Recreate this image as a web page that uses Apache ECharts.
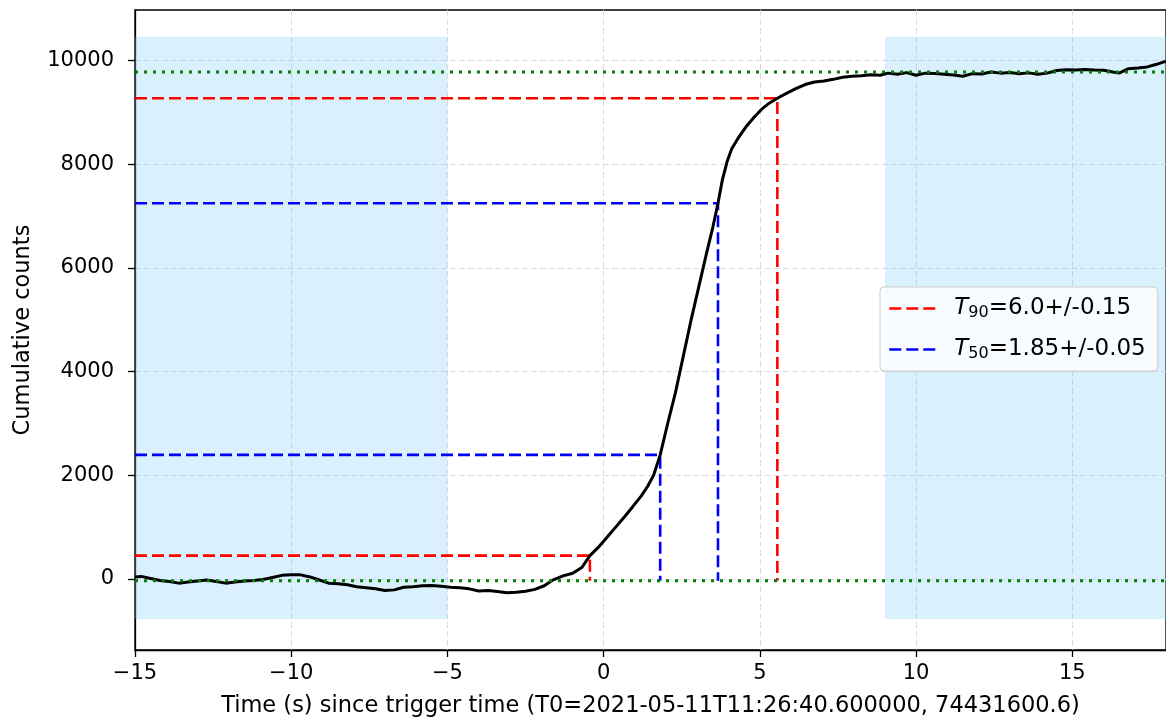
<!DOCTYPE html>
<html>
<head>
<meta charset="utf-8">
<script src="https://cdn.jsdelivr.net/npm/echarts@6/dist/echarts.min.js"></script>
<style>
  html, body { margin: 0; padding: 0; background: #fff; }
  #chart { width: 1166px; height: 724px; }
</style>
</head>
<body>
<div id="chart"></div>
<script>
// Cumulative light curve (time in s since T0, cumulative counts)
const times = [
  -15.0, -14.8, -14.5, -14.2, -13.9, -13.6, -13.3, -13.0, -12.7, -12.4,
  -12.1, -11.8, -11.5, -11.2, -10.9, -10.6, -10.3, -10.0, -9.7, -9.4,
  -9.1, -8.8, -8.5, -8.2, -7.9, -7.6, -7.3, -7.0, -6.7, -6.4,
  -6.1, -5.8, -5.5, -5.2, -4.9, -4.6, -4.3, -4.0, -3.7, -3.4,
  -3.1, -2.8, -2.5, -2.2, -1.9, -1.63, -1.3, -0.99, -0.7, -0.44,
  -0.14, 0.13, 0.4, 0.67, 0.93, 1.2, 1.41, 1.6, 1.81, 2.05,
  2.3, 2.55, 2.8, 3.05, 3.3, 3.5, 3.66, 3.8, 3.95, 4.1,
  4.3, 4.55, 4.8, 5.05, 5.3, 5.56, 5.85, 6.15, 6.45, 6.75,
  7.05, 7.35, 7.65, 7.95, 8.25, 8.55, 8.85, 9.1, 9.4, 9.7,
  10.0, 10.3, 10.6, 10.9, 11.2, 11.5, 11.8, 12.1, 12.4, 12.7,
  13.0, 13.3, 13.6, 13.9, 14.2, 14.5, 14.8, 15.1, 15.4, 15.7,
  16.0, 16.3, 16.5, 16.8, 17.1, 17.4, 17.7, 18.0
];
const counts = [
  40, 50, 10, -30, -50, -80, -60, -40, -20, -50,
  -80, -60, -40, -30, -10, 30, 70, 80, 80, 40,
  -20, -80, -90, -110, -150, -170, -190, -220, -210, -160,
  -150, -130, -125, -140, -160, -170, -190, -230, -220, -240,
  -265, -255, -235, -200, -130, -20, 60, 110, 220, 450,
  630, 820, 1010, 1200, 1395, 1600, 1790, 2000, 2395, 3000,
  3600, 4300, 5000, 5650, 6300, 6800, 7250, 7700, 8050, 8300,
  8500, 8720, 8900, 9060, 9180, 9275, 9370, 9460, 9540, 9590,
  9610, 9640, 9680, 9700, 9710, 9730, 9720, 9760, 9740, 9770,
  9720, 9760, 9755, 9740, 9725, 9700, 9750, 9745, 9780, 9760,
  9770, 9750, 9765, 9740, 9760, 9810, 9825, 9820, 9830, 9820,
  9815, 9780, 9760, 9845, 9860, 9880, 9930, 9990
];

// Axis ranges and ticks
const xRange = [-15, 18];
const yRange = [-1370, 10978];
const xTicks = [-15, -10, -5, 0, 5, 10, 15];
const yTicks = [0, 2000, 4000, 6000, 8000, 10000];

// Background fit intervals (time) and their vertical extent (counts)
const bkgIntervals = [[-15, -5], [9, 18]];
const bkgSpanCounts = [-772, 10463];
// Background levels: pre-burst and post-burst plateau
const bkgLevels = [-33, 9782];

// Duration markers: start/end times and the count levels they cross
const t90Times = [-0.44, 5.56];
const t90Counts = [450, 9275];
const t50Times = [1.81, 3.66];
const t50Counts = [2395, 7250];

// Legend entries
const legendNames = ['T90', 'T50'];
const legendSubs = ['90', '50'];
const legendValues = ['=6.0+/-0.15', '=1.85+/-0.05'];

const FONT = 'DejaVu Sans';
const TICK_FS = 21;
const NAME_FS = 22.5;
const LEG_FS = 23;
const DASH = [12, 5];
const curveData = times.map((t, i) => [t, counts[i]]);

function guideSeries(name, color, tArr, cArr) {
  return tArr.map((t, i) => ({
    name: name,
    type: 'line',
    data: [[xRange[0], cArr[i]], [t, cArr[i]], [t, bkgLevels[0]]],
    showSymbol: false,
    symbol: 'none',
    silent: true,
    z: 3,
    lineStyle: { color: color, width: 2.6, type: DASH },
    itemStyle: { color: color }
  }));
}

const series = [
  {
    name: 'spans',
    type: 'line',
    data: [],
    silent: true,
    z: 1,
    markArea: {
      silent: true,
      itemStyle: { color: 'rgba(135, 206, 250, 0.3)' },
      data: bkgIntervals.map(iv => [
        { xAxis: iv[0], yAxis: bkgSpanCounts[0] },
        { xAxis: iv[1], yAxis: bkgSpanCounts[1] }
      ])
    }
  },
  ...guideSeries('T90', '#ff0000', t90Times, t90Counts),
  ...guideSeries('T50', '#0000ff', t50Times, t50Counts),
  {
    name: 'curve',
    type: 'line',
    data: curveData,
    showSymbol: false,
    symbol: 'none',
    silent: true,
    z: 5,
    lineStyle: { color: '#000', width: 3 }
  },
  ...bkgLevels.map(level => ({
    name: 'bkg',
    type: 'line',
    data: [[xRange[0], level], [xRange[1], level]],
    showSymbol: false,
    symbol: 'none',
    silent: true,
    z: 6,
    lineStyle: { color: '#008000', width: 3, type: [3, 6] }
  }))
];

const chart = echarts.init(document.getElementById('chart'), null, { renderer: 'canvas' });
chart.setOption({
  animation: false,
  backgroundColor: '#fff',
  textStyle: { fontFamily: FONT },
  grid: {
    left: 135, right: -2, top: 10, bottom: 74,
    show: true, borderColor: '#000', borderWidth: 1.3,
    containLabel: false
  },
  legend: {
    orient: 'vertical',
    left: 880,
    top: 287,
    data: legendNames,
    padding: [7, 12, 7, 8],
    itemWidth: 46,
    itemHeight: 22,
    itemGap: 12,
    backgroundColor: 'rgba(255,255,255,0.8)',
    borderColor: '#cccccc',
    borderWidth: 1,
    borderRadius: 4,
    selectedMode: false,
    itemStyle: { opacity: 0, borderWidth: 0 },
    lineStyle: { width: 2.6, type: DASH },
    formatter: name => {
      const i = legendNames.indexOf(name);
      return '{it|T}{sub|' + legendSubs[i] + '}{tx|' + legendValues[i] + '}';
    },
    textStyle: {
      fontFamily: FONT,
      color: '#000',
      lineHeight: 29,
      rich: {
        it: { fontFamily: FONT, fontStyle: 'italic', fontSize: LEG_FS, color: '#000', padding: [0, 0, 0, 14] },
        sub: { fontFamily: FONT, fontSize: 16, color: '#000', padding: [8, 0, 0, 0] },
        tx: { fontFamily: FONT, fontSize: LEG_FS, color: '#000' }
      }
    }
  },
  xAxis: {
    type: 'value',
    min: xRange[0],
    max: xRange[1],
    interval: 5,
    name: 'Time (s) since trigger time (T0=2021-05-11T11:26:40.600000, 74431600.6)',
    nameLocation: 'middle',
    nameGap: 45,
    nameTextStyle: { fontFamily: FONT, fontSize: NAME_FS, color: '#000' },
    axisLine: { onZero: false, lineStyle: { color: '#000', width: 1.3 } },
    axisTick: { show: true, length: 7, inside: false, customValues: xTicks, lineStyle: { color: '#000', width: 1.3 } },
    axisLabel: {
      customValues: xTicks,
      margin: 13,
      fontFamily: FONT,
      fontSize: TICK_FS,
      color: '#000',
      formatter: v => (v < 0 ? '\u2212' + Math.abs(v) : String(v))
    },
    splitLine: { show: true, lineStyle: { color: '#dcdcdc', width: 1, type: [6, 3] } }
  },
  yAxis: {
    type: 'value',
    min: yRange[0],
    max: yRange[1],
    name: 'Cumulative counts',
    nameLocation: 'middle',
    nameGap: 100,
    nameRotate: 90,
    nameTextStyle: { fontFamily: FONT, fontSize: NAME_FS, color: '#000' },
    axisLine: { show: true, onZero: false, lineStyle: { color: '#000', width: 1.3 } },
    axisTick: { show: true, length: 7, inside: false, customValues: yTicks, lineStyle: { color: '#000', width: 1.3 } },
    axisLabel: {
      customValues: yTicks,
      margin: 21,
      fontFamily: FONT,
      fontSize: TICK_FS,
      color: '#000',
      formatter: v => String(v)
    },
    splitLine: { show: true, lineStyle: { color: '#dcdcdc', width: 1, type: [6, 3] } }
  },
  series: series
});
</script>
</body>
</html>
